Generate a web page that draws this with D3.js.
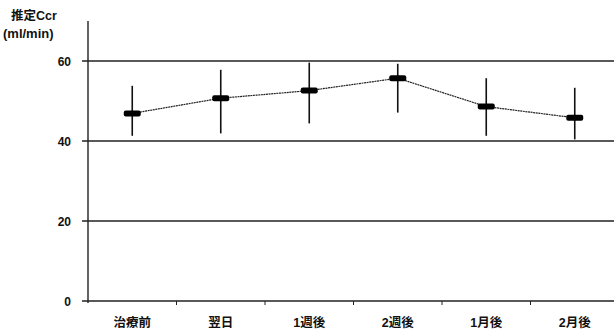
<!DOCTYPE html>
<html><head><meta charset="utf-8">
<script src="https://cdn.jsdelivr.net/npm/d3@7"></script>
<style>body{margin:0;background:#fff}svg{display:block}text{font-family:"Liberation Sans","Noto Sans CJK JP",sans-serif;font-weight:bold;fill:#111}</style>
</head><body><svg id="c" width="614" height="333"></svg>
<script>
const categories = ["治療前","翌日","1週後","2週後","1月後","2月後"];
const means = [46.9, 50.7, 52.6, 55.7, 48.6, 45.8];
const upper = [53.8, 57.8, 59.6, 59.3, 55.7, 53.3];
const lower = [41.3, 41.9, 44.4, 47.1, 41.3, 40.4];
const yTicks = [0, 20, 40, 60];

const svg = d3.select("#c");
const x = d3.scaleBand().domain(categories).range([88, 619]);
const y = d3.scaleLinear().domain([0, 70]).range([301, 21]);

// grid lines
svg.selectAll(".grid").data(yTicks).enter().append("line")
  .attr("x1", 82).attr("x2", 614)
  .attr("y1", d => y(d)).attr("y2", d => y(d))
  .attr("stroke", "#222").attr("stroke-width", 1.4);

// y axis
svg.append("line").attr("x1", 88).attr("x2", 88).attr("y1", y(70)).attr("y2", y(0) + 2)
  .attr("stroke", "#222").attr("stroke-width", 1.4);

svg.selectAll(".yl").data(yTicks).enter().append("text")
  .attr("x", 71).attr("y", d => y(d) + 4.5).attr("text-anchor", "end")
  .attr("font-size", 12).text(d => d);

// x ticks
svg.selectAll(".xt").data(categories.slice(1)).enter().append("line")
  .attr("x1", d => x(d)).attr("x2", d => x(d))
  .attr("y1", y(0)).attr("y2", y(0) + 4)
  .attr("stroke", "#222").attr("stroke-width", 1);

svg.selectAll(".xl").data(categories).enter().append("text")
  .attr("x", d => x(d) + x.bandwidth() / 2).attr("y", 327)
  .attr("text-anchor", "middle").attr("font-size", 12.5).text(d => d);

// axis title
svg.append("text").attr("x", 11).attr("y", 20).attr("font-size", 12.5).text("推定Ccr");
svg.append("text").attr("x", 3).attr("y", 38).attr("font-size", 13).text("(ml/min)");

const cx = d => x(d) + x.bandwidth() / 2;

// line
svg.append("path")
  .attr("d", d3.line().x((d, i) => cx(categories[i])).y(d => y(d))(means))
  .attr("fill", "none").attr("stroke", "#222").attr("stroke-width", 1.2)
  .attr("stroke-dasharray", "2,0.6");

// error bars
svg.selectAll(".eb").data(categories).enter().append("line")
  .attr("x1", d => cx(d)).attr("x2", d => cx(d))
  .attr("y1", (d, i) => y(upper[i])).attr("y2", (d, i) => y(lower[i]))
  .attr("stroke", "#111").attr("stroke-width", 1.6);

// mean markers
svg.selectAll(".mk").data(categories).enter().append("rect")
  .attr("x", d => cx(d) - 8.5).attr("y", (d, i) => y(means[i]) - 3)
  .attr("width", 17).attr("height", 6).attr("rx", 2)
  .attr("fill", "#000");
</script></body></html>
